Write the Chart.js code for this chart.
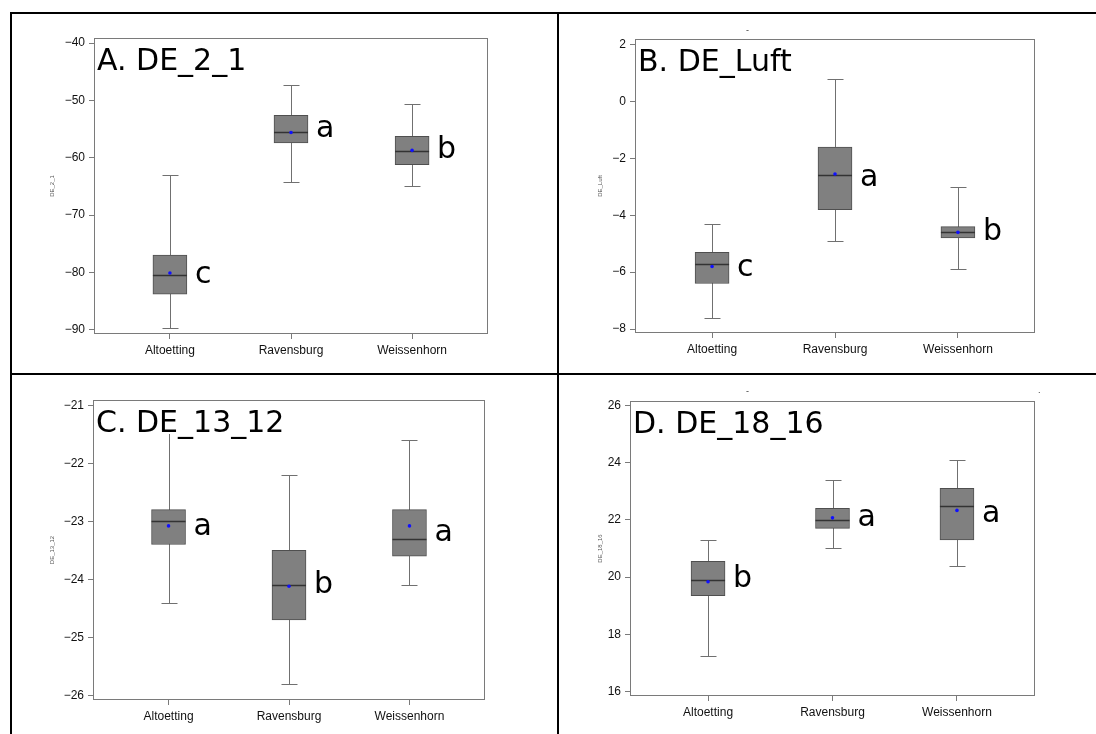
<!DOCTYPE html>
<html>
<head>
<meta charset="utf-8">
<script src="https://cdn.jsdelivr.net/npm/chart.js@4.4.1/dist/chart.umd.min.js"></script>
<style>
  body { margin: 0; width: 1096px; height: 734px; background: #fff; position: relative; overflow: hidden; }
  .rule { position: absolute; background: #000; }
  .mark { position: absolute; font: 9px "Liberation Sans"; color: #333; line-height: 9px; }
  canvas { position: absolute; }
</style>
</head>
<body>
<div class="rule" style="left:10px;top:12px;width:1086px;height:2px"></div>
<div class="rule" style="left:10px;top:12px;width:2px;height:722px"></div>
<div class="rule" style="left:557px;top:12px;width:2px;height:722px"></div>
<div class="rule" style="left:10px;top:373px;width:1086px;height:2px"></div>
<canvas id="chartA"></canvas>
<canvas id="chartB"></canvas>
<canvas id="chartC"></canvas>
<canvas id="chartD"></canvas>
<span class="mark" style="left:746px;top:26px">-</span>
<span class="mark" style="left:746px;top:387px">-</span>
<span class="mark" style="left:1038px;top:386px">.</span>
<script>
const sites = ["Altoetting", "Ravensburg", "Weissenhorn"];

// A. DE_2_1
const de21Min = [-89.7, -64.3, -65.0];
const de21Q1 = [-83.8, -57.4, -61.2];
const de21Median = [-80.5, -55.45, -58.9];
const de21Q3 = [-77.0, -52.6, -56.25];
const de21Max = [-63.0, -47.3, -50.6];
const de21Mean = [-80.1, -55.6, -58.7];
const de21Groups = ["c", "a", "b"];
const de21Ticks = [-90, -80, -70, -60, -50, -40];

// B. DE_Luft
const luftMin = [-7.6, -4.9, -5.9];
const luftQ1 = [-6.4, -3.8, -4.8];
const luftMedian = [-5.7, -2.6, -4.6];
const luftQ3 = [-5.3, -1.6, -4.4];
const luftMax = [-4.3, 0.8, -3.0];
const luftMean = [-5.8, -2.55, -4.6];
const luftGroups = ["c", "a", "b"];
const luftTicks = [-8, -6, -4, -2, 0, 2];

// C. DE_13_12
const de1312Min = [-24.4, -25.8, -24.1];
const de1312Q1 = [-23.4, -24.7, -23.6];
const de1312Median = [-23.0, -24.1, -23.3];
const de1312Q3 = [-22.8, -23.5, -22.8];
const de1312Max = [-21.4, -22.2, -21.6];
const de1312Mean = [-23.08, -24.12, -23.08];
const de1312Groups = ["a", "b", "a"];
const de1312Ticks = [-26, -25, -24, -23, -22, -21];

// D. DE_18_16
const de1816Min = [17.25, 21.0, 20.4];
const de1816Q1 = [19.35, 21.7, 21.3];
const de1816Median = [19.9, 22.0, 22.5];
const de1816Q3 = [20.55, 22.4, 23.1];
const de1816Max = [21.3, 23.4, 24.1];
const de1816Mean = [19.84, 22.07, 22.33];
const de1816Groups = ["b", "a", "a"];
const de1816Ticks = [16, 18, 20, 22, 24, 26];

const BOX_W = 34;
const CAP = 8;

function fmt(v) {
  return v < 0 ? "\u2212" + Math.abs(v) : String(v);
}

function boxPanel(id, layout, d) {
  const canvas = document.getElementById(id);
  const [cx, cy, cw, ch] = layout.cell;
  const [al, at, ar, ab] = layout.area;
  canvas.width = cw;
  canvas.height = ch;
  canvas.style.left = cx + "px";
  canvas.style.top = cy + "px";
  canvas.style.width = cw + "px";
  canvas.style.height = ch + "px";

  const yAxisW = al - (layout.yTitleX - 3.6);
  const xAxisH = 30;

  // whiskers, medians, frame, group letters and panel title
  const extras = {
    id: "extras",
    beforeDatasetsDraw(chart) {
      const { ctx, chartArea: a, scales: { x, y } } = chart;
      ctx.save();
      ctx.strokeStyle = "#7a7a7a";
      ctx.lineWidth = 1;
      ctx.strokeRect(a.left + 0.5, a.top + 0.5, a.width - 1, a.height - 1);
      ctx.strokeStyle = "#707070";
      d.min.forEach((lo, i) => {
        const px = Math.round(x.getPixelForValue(i)) + 0.5;
        const y1 = Math.round(y.getPixelForValue(lo)) + 0.5;
        const y2 = Math.round(y.getPixelForValue(d.max[i])) + 0.5;
        ctx.beginPath();
        ctx.moveTo(px, y1); ctx.lineTo(px, y2);
        ctx.moveTo(px - CAP, y1); ctx.lineTo(px + CAP, y1);
        ctx.moveTo(px - CAP, y2); ctx.lineTo(px + CAP, y2);
        ctx.stroke();
      });
      ctx.restore();
    },
    afterDatasetDraw(chart, args) {
      if (args.index !== 0) return;
      const { ctx, scales: { x, y } } = chart;
      ctx.save();
      ctx.strokeStyle = "#333";
      ctx.lineWidth = 1.3;
      d.median.forEach((m, i) => {
        const px = x.getPixelForValue(i);
        const py = Math.round(y.getPixelForValue(m)) + 0.5;
        ctx.beginPath();
        ctx.moveTo(px - BOX_W / 2, py);
        ctx.lineTo(px + BOX_W / 2, py);
        ctx.stroke();
      });
      ctx.restore();
    },
    afterDatasetsDraw(chart) {
      const { ctx, chartArea: a, scales: { x, y } } = chart;
      ctx.save();
      ctx.font = '30px "DejaVu Sans"';
      ctx.fillStyle = "#000";
      ctx.textBaseline = "alphabetic";
      d.groups.forEach((g, i) => {
        const px = x.getPixelForValue(i) + BOX_W / 2 + 8;
        const py = y.getPixelForValue((d.q1[i] + d.q3[i]) / 2) + 8;
        ctx.fillText(g, px, py);
      });
      const tx = a.left + 3;
      const ty = a.top + 32;
      const w = ctx.measureText(d.title).width;
      ctx.fillStyle = "#fff";
      ctx.fillRect(tx - 1, a.top + 2, w + 2, ty - a.top);
      ctx.fillStyle = "#000";
      ctx.fillText(d.title, tx, ty);
      ctx.restore();
    }
  };

  return new Chart(canvas, {
    type: "bar",
    data: {
      datasets: [
        {
          type: "bar",
          data: sites.map((s, i) => ({ x: i, y: [d.q1[i], d.q3[i]] })),
          backgroundColor: "#808080",
          borderColor: "#4f4f4f",
          borderWidth: 1,
          borderSkipped: false,
          barThickness: BOX_W,
          order: 1
        },
        {
          type: "scatter",
          data: sites.map((s, i) => ({ x: i, y: d.mean[i] })),
          pointRadius: 1.8,
          pointBackgroundColor: "#1010ff",
          pointBorderWidth: 0,
          order: 0
        }
      ]
    },
    options: {
      responsive: false,
      animation: false,
      layout: {
        padding: {
          left: al - cx - yAxisW,
          top: at - cy,
          right: cx + cw - ar,
          bottom: cy + ch - ab - xAxisH
        }
      },
      plugins: {
        legend: { display: false },
        tooltip: { enabled: false }
      },
      scales: {
        x: {
          type: "linear",
          min: -0.627,
          max: 2.627,
          offset: false,
          bounds: "data",
          grid: { offset: false, drawOnChartArea: false, tickLength: 5, color: "#7a7a7a" },
          border: { display: false },
          afterBuildTicks: (scale) => {
            scale.ticks = sites.map((s, i) => ({ value: i }));
          },
          afterFit: (scale) => { scale.height = xAxisH; },
          ticks: {
            autoSkip: false,
            maxRotation: 0,
            padding: 4,
            color: "#111",
            font: { family: "Liberation Sans", size: 12 },
            callback: (v) => sites[v]
          }
        },
        y: {
          type: "linear",
          min: d.range[0],
          max: d.range[1],
          bounds: "data",
          grid: { drawOnChartArea: false, tickLength: 5, color: "#7a7a7a" },
          border: { display: false },
          afterBuildTicks: (scale) => {
            scale.ticks = d.ticks.map((v) => ({ value: v }));
          },
          afterFit: (scale) => { scale.width = yAxisW; },
          title: {
            display: true,
            text: d.axisTitle,
            color: "#555",
            padding: 0,
            font: { family: "Liberation Sans", size: 6 }
          },
          ticks: {
            padding: 4,
            color: "#111",
            font: { family: "Liberation Sans", size: 12 },
            callback: (v) => fmt(v)
          }
        }
      }
    },
    plugins: [extras]
  });
}

boxPanel("chartA",
  { cell: [12, 14, 545, 359], area: [94, 38, 488, 334], yTitleX: 52 },
  { title: "A. DE_2_1", axisTitle: "DE_2_1", range: [-90.75, -39.1], ticks: de21Ticks,
    min: de21Min, q1: de21Q1, median: de21Median, q3: de21Q3, max: de21Max, mean: de21Mean, groups: de21Groups });

boxPanel("chartB",
  { cell: [559, 14, 537, 359], area: [635, 39, 1035, 333], yTitleX: 600 },
  { title: "B. DE_Luft", axisTitle: "DE_Luft", range: [-8.14, 2.2], ticks: luftTicks,
    min: luftMin, q1: luftQ1, median: luftMedian, q3: luftQ3, max: luftMax, mean: luftMean, groups: luftGroups });

boxPanel("chartC",
  { cell: [12, 375, 545, 359], area: [93, 400, 485, 700], yTitleX: 52 },
  { title: "C. DE_13_12", axisTitle: "DE_13_12", range: [-26.08, -20.91], ticks: de1312Ticks,
    min: de1312Min, q1: de1312Q1, median: de1312Median, q3: de1312Q3, max: de1312Max, mean: de1312Mean, groups: de1312Groups });

boxPanel("chartD",
  { cell: [559, 375, 537, 359], area: [630, 401, 1035, 696], yTitleX: 600 },
  { title: "D. DE_18_16", axisTitle: "DE_18_16", range: [15.85, 26.15], ticks: de1816Ticks,
    min: de1816Min, q1: de1816Q1, median: de1816Median, q3: de1816Q3, max: de1816Max, mean: de1816Mean, groups: de1816Groups });
</script>
</body>
</html>
